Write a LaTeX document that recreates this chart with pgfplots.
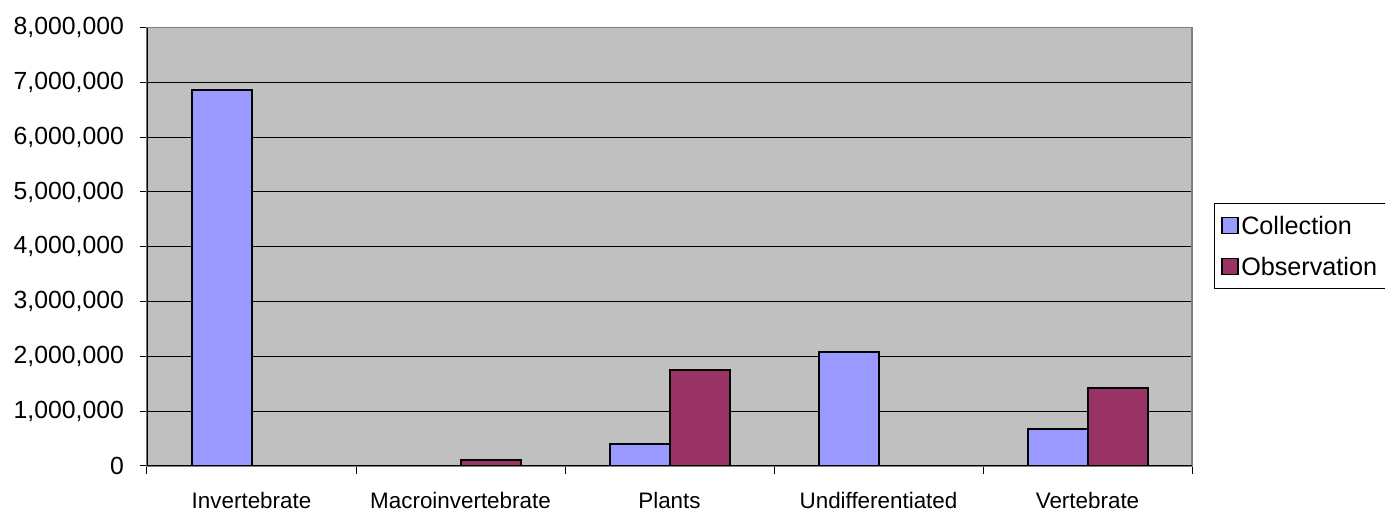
\documentclass[border=0pt]{standalone}
\usepackage{pgfplots}
\pgfplotsset{compat=1.18}
\usepackage{fontspec}
\setmainfont{Liberation Sans}

\definecolor{collection}{HTML}{9999FF}
\definecolor{observation}{HTML}{993366}
\definecolor{plotbg}{HTML}{C0C0C0}

\begin{document}
\begin{tikzpicture}
\useasboundingbox (-73.5pt,-23.5pt) rectangle (619pt,233pt);
\begin{axis}[
  scale only axis,
  width=522.5pt, height=219.25pt,
  xmin=-0.5, xmax=4.5,
  ymin=0, ymax=8000000,
  ybar=0pt, bar width=30pt,
  axis background/.style={fill=plotbg},
  axis line style={draw=gray, line width=0.6pt},
  xtick={0,1,2,3,4},
  xticklabels={Invertebrate,Macroinvertebrate,Plants,Undifferentiated,Vertebrate},
  major x tick style={draw=none},
  major tick length=3.5pt,
  minor xtick={-0.5,0.5,1.5,2.5,3.5,4.5},
  minor tick length=4pt,
  tick align=outside,
  xtick pos=bottom, ytick pos=left,
  tick style={black, line width=0.5pt},
  ytick={0,1000000,...,8000000},
  scaled y ticks=false,
  ymajorgrids,
  grid style={black, line width=0.5pt},
  /pgf/number format/.cd, fixed, 1000 sep={,}, assume math mode=true,
  /pgfplots/.cd,
  yticklabel style={font=\fontsize{12.4pt}{14pt}\selectfont, xshift=-4.5pt},
  xticklabel style={font=\fontsize{11.2pt}{14pt}\selectfont, yshift=-6pt},
  legend style={font=\fontsize{12.6pt}{15pt}\selectfont,
    at={(1.021,0.5998)}, anchor=north west,
    draw=black, line width=0.5pt, fill=white,
    inner xsep=3.5pt, inner ysep=4.5pt, row sep=7.5pt,
    nodes={inner xsep=1.2pt, inner ysep=2pt, text height=9pt, text depth=0pt}},
  legend cell align=left,
  legend image code/.code={\draw[#1, line width=0.7pt] (0.5pt,-4pt) rectangle (8.5pt,4pt);},
]
\addplot[fill=collection, draw=black, line width=1pt]
  coordinates {(0,6860000) (1,0) (2,400000) (3,2080000) (4,670000)};
\addplot[fill=observation, draw=black, line width=1pt]
  coordinates {(0,0) (1,110000) (2,1760000) (3,0) (4,1430000)};
\legend{Collection,Observation}
\draw[black, line width=0.6pt] (rel axis cs:0,1) -- (rel axis cs:0,0) -- (rel axis cs:1,0);
\end{axis}
\end{tikzpicture}
\end{document}
